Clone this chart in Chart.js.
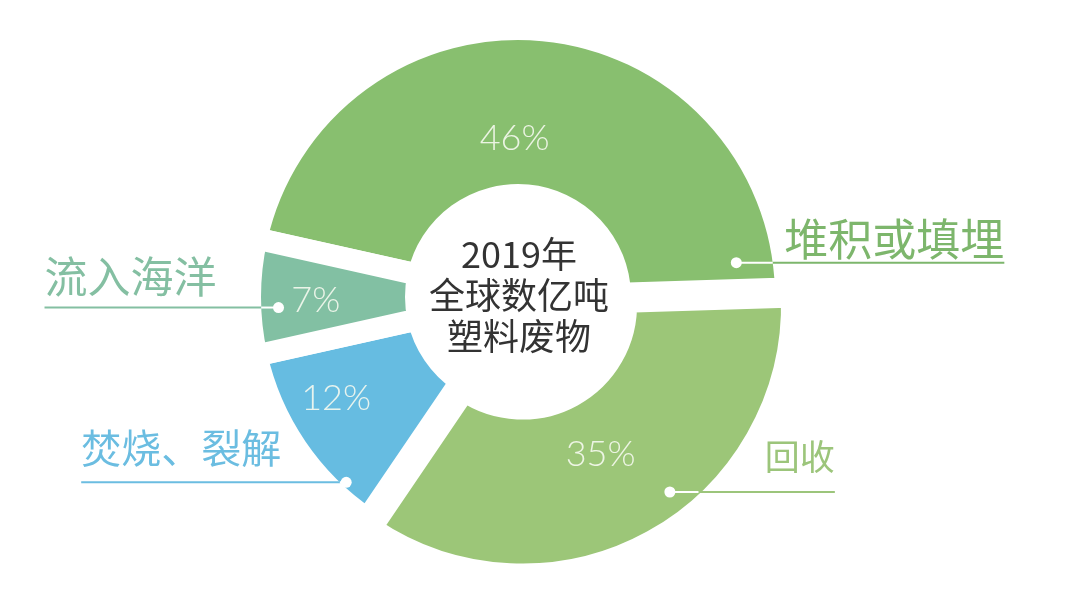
<!DOCTYPE html>
<html lang="zh-CN">
<head>
<meta charset="utf-8">
<title>2019年全球塑料废物去向</title>
<script src="https://cdn.jsdelivr.net/npm/chart.js@4.4.1/dist/chart.umd.min.js"></script>
<style>
    html, body { margin: 0; padding: 0; background: #fff; }
    #wrap { position: relative; width: 1080px; height: 612px; }
</style>
</head>
<body>
<div id="wrap"><canvas id="chart" width="1080" height="612"></canvas></div>
<script>
// Data
const categories = ['堆积或填埋', '回收', '焚烧、裂解', '流入海洋'];
const shares = [46, 35, 12, 7];
const sliceColors = ['#88bf6f', '#9cc678', '#66bce1', '#82c0a3'];
const labelColors = ['#7db66c', '#9cc57b', '#6bbde1', '#84bfa2'];
const centerLines = ['2019年', '全球数亿吨', '塑料废物'];

const GAP = 22; // white border = gap between slices

// Percent labels + leader lines with a dot, placed relative to each arc
const calloutPlugin = {
    id: 'callouts',
    afterDatasetsDraw(chart, args, opts) {
        const ctx = chart.ctx;
        const meta = chart.getDatasetMeta(0);
        const half = GAP / 2;
        meta.data.forEach((arc, i) => {
            const p = arc.getProps(['x', 'y', 'startAngle', 'endAngle', 'innerRadius', 'outerRadius'], true);
            const shift = (arc.options.offset || 0) / 4;
            const mid = (p.startAngle + p.endAngle) / 2;
            const cx = p.x + Math.cos(mid) * shift;
            const cy = p.y + Math.sin(mid) * shift;
            const rIn = p.innerRadius + half, rOut = p.outerRadius - half;
            const at = (t, f) => {
                const a = p.startAngle + (p.endAngle - p.startAngle) * t;
                const r = rIn + (rOut - rIn) * f;
                return [cx + Math.cos(a) * r, cy + Math.sin(a) * r];
            };

            ctx.save();
            // percent
            const [px, py] = at(opts.pct[i][0], opts.pct[i][1]);
            ctx.font = '300 36px Lato, "Noto Sans CJK SC", sans-serif';
            ctx.fillStyle = 'rgba(246,250,240,0.9)';
            ctx.textAlign = 'center';
            ctx.textBaseline = 'middle';
            ctx.fillText(shares[i] + '%', px, py);

            // leader line: white inside the slice, coloured outside
            const c = opts.callouts[i];
            const [dx, dy] = at(c.t, c.f);
            const ex = dx + c.dir * c.len;
            const h = dy - cy;
            const edgeX = cx + c.dir * Math.sqrt(Math.max(rOut * rOut - h * h, 0));
            ctx.lineWidth = 2;
            ctx.strokeStyle = labelColors[i];
            ctx.beginPath();
            ctx.moveTo(edgeX, dy);
            ctx.lineTo(ex, dy);
            ctx.stroke();
            ctx.strokeStyle = '#fff';
            ctx.beginPath();
            ctx.moveTo(dx, dy);
            ctx.lineTo(edgeX, dy);
            ctx.stroke();
            ctx.beginPath();
            ctx.arc(dx, dy, 5.5, 0, Math.PI * 2);
            ctx.fillStyle = '#fff';
            ctx.fill();

            // category text
            ctx.font = c.size + 'px "Noto Sans CJK SC", sans-serif';
            ctx.fillStyle = labelColors[i];
            ctx.textAlign = c.dir > 0 ? 'right' : 'left';
            ctx.textBaseline = 'middle';
            ctx.fillText(categories[i], ex, dy - c.lift);
            ctx.restore();
        });
    }
};

const centerTextPlugin = {
    id: 'centerText',
    afterDraw(chart) {
        const arc = chart.getDatasetMeta(0).data[0];
        if (!arc) return;
        const ctx = chart.ctx;
        ctx.save();
        ctx.font = '36px "Noto Sans CJK SC", sans-serif';
        ctx.fillStyle = '#333';
        ctx.textAlign = 'center';
        ctx.textBaseline = 'middle';
        const step = 41;
        centerLines.forEach((line, i) => {
            ctx.fillText(line, arc.x + 1, arc.y - 2 + (i - 1) * step);
        });
        ctx.restore();
    }
};

const ctx = document.getElementById('chart').getContext('2d');
new Chart(ctx, {
    type: 'doughnut',
    data: {
        labels: categories,
        datasets: [{
            data: shares,
            backgroundColor: sliceColors,
            borderColor: '#ffffff',
            borderWidth: GAP,
            borderJoinStyle: 'miter',
            offset: [0, 36, 0, 0],
            hoverOffset: 0
        }]
    },
    options: {
        responsive: false,
        animation: false,
        rotation: -77.4,
        cutout: 102,
        layout: { padding: { top: 0, bottom: 18, left: 0, right: 44 } },
        plugins: {
            legend: { display: false },
            tooltip: { enabled: false },
            callouts: {
                pct: [[0.46, 0.32], [0.51, 0.39], [0.62, 0.66], [0.46, 0.62]],
                callouts: [
                    { t: 0.957, f: 0.75, dir: 1, len: 268, lift: 23.5, size: 44 },
                    { t: 0.425, f: 0.87, dir: 1, len: 165, lift: 35.5, size: 35 },
                    { t: 0.2, f: 0.97, dir: -1, len: 265, lift: 34, size: 40 },
                    { t: 0.40, f: 0.88, dir: -1, len: 234, lift: 30.5, size: 43 }
                ]
            }
        }
    },
    plugins: [calloutPlugin, centerTextPlugin]
});
</script>
</body>
</html>
